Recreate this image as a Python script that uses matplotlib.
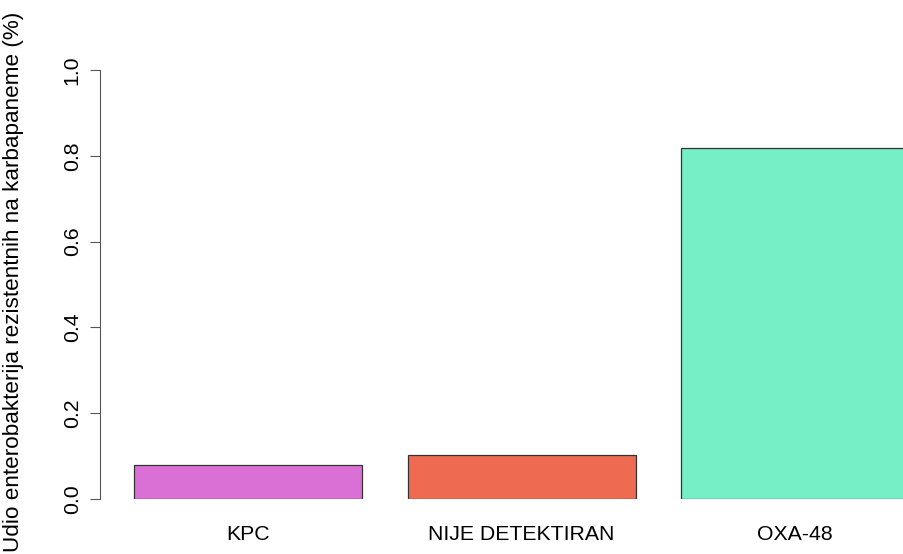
import matplotlib
matplotlib.use("Agg")
import matplotlib.pyplot as plt

plt.rcParams['font.family'] = ['Liberation Sans', 'DejaVu Sans']

categories = ['KPC', 'NIJE DETEKTIRAN', 'OXA-48']
values = [0.079, 0.103, 0.818]
colors = ['#DA70D6', '#EE6A50', '#76EEC6']
yticks = [0.0, 0.2, 0.4, 0.6, 0.8, 1.0]

W, H = 904, 554
fig = plt.figure(figsize=(W / 100, H / 100), dpi=100)
# plot region in pixels: axis line at x=100, y=0 at 499, y=1 at 70
ax = fig.add_axes([100 / W, (H - 499) / H, (W - 100) / W, (499 - 70) / H])

# R barplot layout: width 1, space 0.2
pos = [0.2 + i * 1.2 + 0.5 for i in range(len(categories))]
ax.bar(pos, values, width=1.0, color=colors, edgecolor='#333333', linewidth=0.9)

ax.set_ylim(0, 1)
ax.set_xlim(0.2 - 34 / 228, 0.2 + (W - 134) / 228)

for s in ['top', 'right', 'bottom']:
    ax.spines[s].set_visible(False)
ax.spines['left'].set_bounds(0, 1)
ax.spines['left'].set_color('#555555')

ax.set_yticks(yticks)
ax.set_yticklabels([f'{t:.1f}' for t in yticks], rotation=90, va='center',
                   fontsize=15.3)
ax.tick_params(axis='y', length=7.2, color='#555555', pad=6)

ax.set_xticks(pos)
ax.set_xticklabels(categories, fontsize=15.3)
ax.tick_params(axis='x', length=0, pad=19)

fig.text(14 / W, (H - 281.5) / H,
         'Udio enterobakterija rezistentnih na karbapaneme (%)',
         rotation=90, ha='center', va='center', fontsize=16.2)

fig.savefig('out.png', dpi=100)
